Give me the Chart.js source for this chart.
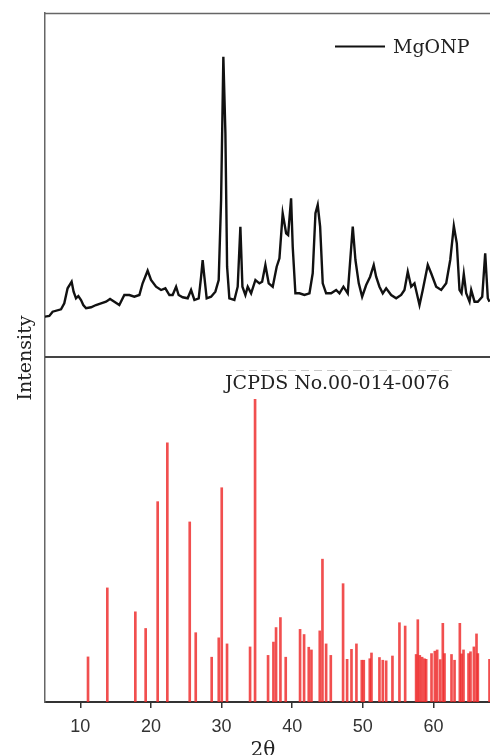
<!DOCTYPE html>
<html><head><meta charset="utf-8">
<script src="https://cdn.jsdelivr.net/npm/chart.js@4.4.0/dist/chart.umd.min.js"></script>
<style>html,body{margin:0;padding:0;background:#fff;}#wrap{width:490px;height:755px;}</style>
</head><body><div id="wrap"><canvas id="c" width="490" height="755"></canvas></div>
<script>
// Measured MgONP pattern (2θ, relative intensity)
const twoTheta = [4.90,5.61,6.08,7.27,7.73,8.20,8.77,9.05,9.39,9.72,
10.10,10.42,10.81,11.52,12.22,12.93,13.64,14.21,14.82,15.52,
16.23,16.94,17.65,18.36,18.82,19.53,20.01,20.72,21.43,22.04,
22.61,23.07,23.56,23.92,24.49,25.20,25.68,26.15,26.76,27.10,
27.32,27.56,27.89,28.51,29.12,29.59,29.93,30.25,30.54,30.78,
31.10,31.81,32.28,32.66,32.95,33.37,33.70,34.18,34.79,35.35,
35.74,36.20,36.67,37.24,37.80,38.19,38.65,39.14,39.42,39.84,
40.07,40.45,41.02,41.73,42.44,42.90,43.29,43.61,43.95,44.32,
44.80,45.51,46.22,46.69,47.25,47.86,48.57,48.95,49.42,49.90,
50.47,51.03,51.54,51.88,52.35,52.82,53.30,54.01,54.72,55.42,
55.89,56.36,56.84,57.31,58.02,58.48,59.19,59.67,60.38,61.09,
61.80,62.37,62.88,63.30,63.68,63.97,64.29,64.63,65.10,65.34,
65.81,66.27,66.90,67.32,67.69,67.93];
const mgoIntensity = [40.3,41,45.3,47.7,53.7,68.7,75.3,65.3,58.7,61,
57,52,48.7,49.7,52,53.7,55.3,58,55.3,52,
62,62,60.3,62,73.7,86.3,77,70.3,67,68.7,
62,62,70.3,62,59.7,58.7,67,57,58.7,80.3,
97,80.3,58.7,60.3,65.3,77,157,300.3,223.7,90.3,
58.7,57,70.3,130.3,70.3,62,70.3,63.7,77,73.7,
75.3,92,73.7,70.3,90.3,98.7,143.7,123.7,122,158.7,
110.3,63.7,63.7,62,63.7,83.7,143.7,152,130.3,73.7,
63.7,63.7,67,63.7,70.3,63.7,130.3,97,73.7,60.3,
72,80.3,92,80.3,70.3,63.7,68.7,62,58.7,62,
67,85.3,70.3,73.7,52,67,92,83.7,70.3,67,
73.7,97,131,113.7,67,63.7,83,63.7,55.3,67,
55.3,55.3,60.3,103.7,58.7,55.3];

// Reference card JCPDS No.00-014-0076 (2θ, relative intensity)
const refPos = [11.09,13.82,17.79,19.25,20.95,22.32,25.49,26.34,28.60,29.60,
30.02,30.77,34.03,34.74,36.58,37.34,37.71,38.33,39.08,41.11,
41.68,42.34,42.72,43.90,44.28,44.80,45.46,47.20,47.77,48.39,
49.09,49.85,50.13,50.98,51.22,52.35,52.82,53.30,54.19,55.18,
55.99,57.54,57.78,58.06,58.39,58.72,58.96,59.72,60.19,60.52,
60.95,61.32,61.56,62.55,62.98,63.73,63.97,64.25,64.96,65.24,
65.72,66.09,66.28,67.93];
const refInt = [14.9,37.7,29.8,24.3,66.2,85.6,59.5,22.9,14.8,21.2,
70.8,19.2,18.2,100,15.4,19.8,24.6,27.9,14.8,24.0,
22.3,18.1,17.2,23.5,47.2,19.2,15.4,39.1,14.1,17.4,
19.2,13.8,13.8,14.3,16.2,14.7,13.8,13.6,15.2,26.2,
25.1,15.7,27.2,15.4,14.8,14.3,14.1,16.0,16.8,17.2,
14.0,26.0,16.0,15.7,13.8,26.0,15.9,17.2,16.0,16.6,
18.2,22.5,16.0,14.1];

const xTicks = [10,20,30,40,50,60];
const seriesLabel = 'MgONP';
const refLabel = 'JCPDS No.00-014-0076';
const xTitle = '2θ';
const yTitle = 'Intensity';

const SERIF = '"DejaVu Serif", "Liberation Serif", serif';

const decor = {
  id: 'decor',
  afterDraw(chart) {
    const ctx = chart.ctx;
    const ca = chart.chartArea;
    const yb = chart.scales.yBot;
    ctx.save();
    // top frame line
    ctx.strokeStyle = '#666'; ctx.lineWidth = 1.5;
    ctx.beginPath(); ctx.moveTo(ca.left, ca.top + 0.5); ctx.lineTo(ca.right, ca.top + 0.5); ctx.stroke();
    // divider between panels
    ctx.strokeStyle = '#444'; ctx.lineWidth = 2;
    ctx.beginPath(); ctx.moveTo(ca.left, yb.top); ctx.lineTo(ca.right, yb.top); ctx.stroke();
    // faint dashed remnant
    ctx.strokeStyle = '#c8c8c8'; ctx.lineWidth = 1; ctx.setLineDash([8,5]);
    ctx.beginPath(); ctx.moveTo(236, yb.top + 13.5); ctx.lineTo(452, yb.top + 13.5); ctx.stroke();
    ctx.setLineDash([]);
    // legend
    ctx.strokeStyle = '#111'; ctx.lineWidth = 2;
    ctx.beginPath(); ctx.moveTo(335, 46.5); ctx.lineTo(385, 46.5); ctx.stroke();
    ctx.fillStyle = '#222';
    ctx.font = '19px ' + SERIF;
    ctx.textAlign = 'left'; ctx.textBaseline = 'alphabetic';
    ctx.fillText(seriesLabel, 393, 52.5);
    ctx.fillText(refLabel, 225, yb.top + 31.5);
    // x title
    ctx.font = '20px ' + SERIF;
    ctx.textAlign = 'center';
    ctx.fillText(xTitle, 263, 756);
    // y title
    ctx.translate(31, yb.top + 1);
    ctx.rotate(-Math.PI / 2);
    ctx.font = '19px ' + SERIF;
    ctx.fillText(yTitle, 0, 0);
    ctx.restore();
  }
};

new Chart(document.getElementById('c'), {
  type: 'line',
  data: {
    datasets: [
      {
        type: 'line', label: seriesLabel, yAxisID: 'yTop',
        data: twoTheta.map((x, i) => ({x: x, y: mgoIntensity[i]})),
        borderColor: '#111', borderWidth: 2.4, pointRadius: 0, tension: 0, fill: false
      },
      {
        type: 'bar', label: refLabel, yAxisID: 'yBot',
        data: refPos.map((x, i) => ({x: x, y: refInt[i]})),
        backgroundColor: 'rgba(238,40,40,0.82)', borderWidth: 0,
        barThickness: 2, grouped: false
      }
    ]
  },
  options: {
    responsive: false, animation: false, devicePixelRatio: 1,
    layout: {padding: {left: 45, right: 0, top: 13, bottom: 0}},
    plugins: {legend: {display: false}, tooltip: {enabled: false}},
    scales: {
      x: {
        type: 'linear', min: 5, max: 68, offset: false,
        afterBuildTicks: (s) => { s.ticks = xTicks.map(v => ({value: v})); },
        afterFit: (s) => { s.height = 53; },
        grid: {display: true, offset: false, drawOnChartArea: false, drawTicks: true, tickLength: 6, color: '#333', lineWidth: 1.5},
        border: {display: true, color: '#333', width: 2},
        ticks: {color: '#333', font: {family: '"Liberation Sans", Arial, sans-serif', size: 18}, padding: 8, maxRotation: 0, autoSkip: false}
      },
      yBot: {
        type: 'linear', position: 'left', stack: 'xrd', stackWeight: 345,
        min: 0, max: 114,
        afterFit: (s) => { s.width = 0; },
        grid: {display: false},
        border: {display: true, color: '#666', width: 1.5},
        ticks: {display: false}
      },
      yTop: {
        type: 'linear', position: 'left', stack: 'xrd', stackWeight: 344,
        min: 0, max: 344,
        afterFit: (s) => { s.width = 0; },
        grid: {display: false},
        border: {display: true, color: '#666', width: 1.5},
        ticks: {display: false}
      }
    }
  },
  plugins: [decor]
});
</script>
</body></html>
